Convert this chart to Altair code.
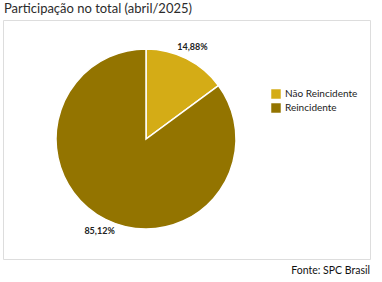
import altair as alt
import pandas as pd

categories = ["Não Reincidente", "Reincidente"]
values = [14.88, 85.12]
labels = ["14,88%", "85,12%"]
colors = ["#D4AC16", "#937400"]

df = pd.DataFrame({"cat": categories, "val": values, "lab": labels, "ord": [0, 1]})

W, H = 367, 239
CX, CY, R = 143, 119, 90
FONT = "Lato"

base = alt.Chart(df).encode(
    theta=alt.Theta("val:Q", stack=True),
    order=alt.Order("ord:Q"),
)

pie = base.mark_arc(radius=R, stroke="white", strokeWidth=1.5).encode(
    x=alt.value(CX), y=alt.value(CY),
    color=alt.Color("cat:N", scale=alt.Scale(domain=categories, range=colors),
                    legend=alt.Legend(title=None, orient="none", legendX=268, legendY=69,
                                      symbolType="square", symbolSize=90,
                                      symbolStrokeWidth=0, labelFontSize=10,
                                      labelFont=FONT, labelColor="#222222",
                                      rowPadding=4)),
)

text = base.mark_text(radius=103, fontSize=9, fontWeight="bold", font=FONT, color="#222222").encode(
    x=alt.value(CX), y=alt.value(CY), text="lab:N",
)

foot = alt.Chart(pd.DataFrame({"t": ["Fonte: SPC Brasil"]})).mark_text(
    align="right", baseline="middle", fontSize=10.5, font=FONT, color="#111111"
).encode(x=alt.value(W), y=alt.value(H + 12), text="t:N")

chart = alt.layer(pie, text, foot).properties(
    width=W, height=H,
    autosize=alt.AutoSizeParams(type="none"),
    padding={"left": 3, "top": 20, "right": 12, "bottom": 23},
    title=alt.TitleParams("Participação no total (abril/2025)", anchor="start", fontSize=13,
                          font=FONT, fontWeight="normal", color="#2b2b2b", offset=4, dx=1),
).configure_view(fill="#F2F2F2", strokeWidth=0, stroke="#F2F2F2").configure(background="white")

chart.save("out.html", embed_options={"renderer": "svg", "actions": False})
